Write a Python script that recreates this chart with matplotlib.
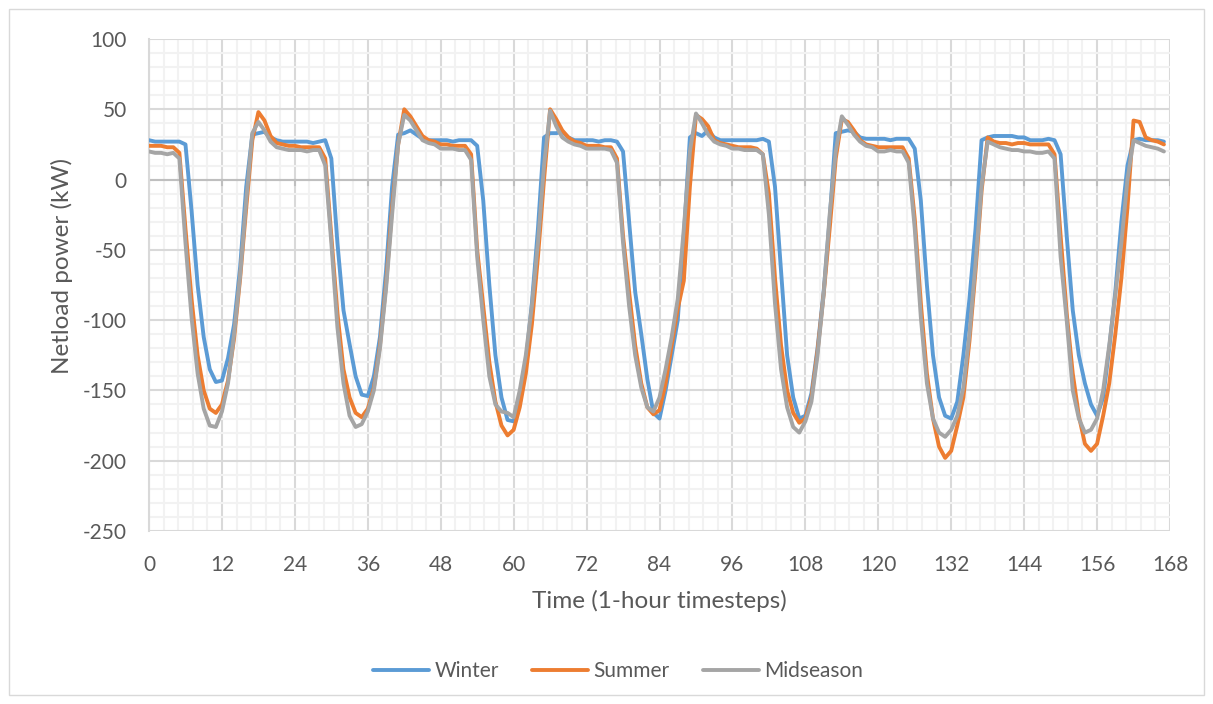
import matplotlib.pyplot as plt
from matplotlib.patches import Rectangle
from matplotlib.ticker import MultipleLocator
import numpy as np

plt.rcParams['font.family'] = ['Lato', 'DejaVu Sans']
plt.rcParams['axes.unicode_minus'] = False

# hourly net load over one week (kW), one row per day
winter = [
    28, 27, 27, 27, 27, 27, 25, -22, -75, -112, -135, -144, -143, -127, -103, -62, -5, 32, 33, 34, 30, 28, 27, 27,
    27, 27, 27, 26, 27, 28, 15, -45, -93, -117, -140, -153, -154, -140, -112, -65, -5, 32, 33, 35, 32, 29, 28, 28,
    28, 28, 27, 28, 28, 28, 24, -15, -75, -125, -155, -171, -172, -160, -130, -88, -35, 30, 33, 33, 34, 30, 28, 28,
    28, 28, 27, 28, 28, 27, 20, -30, -80, -110, -142, -166, -170, -150, -125, -100, -40, 30, 33, 31, 35, 30, 28, 28,
    28, 28, 28, 28, 28, 29, 27, -5, -65, -125, -155, -170, -168, -152, -120, -80, -28, 33, 34, 35, 34, 30, 29, 29,
    29, 29, 28, 29, 29, 29, 22, -15, -75, -125, -155, -168, -170, -158, -125, -85, -35, 28, 30, 31, 31, 31, 31, 30,
    30, 28, 28, 28, 29, 28, 18, -40, -93, -125, -145, -160, -168, -155, -120, -80, -30, 10, 28, 29, 28, 28, 28, 27,
]
summer = [
    24, 24, 24, 23, 23, 19, -35, -85, -125, -150, -163, -166, -160, -143, -113, -70, -20, 28, 48, 42, 31, 26, 25, 24,
    24, 23, 23, 23, 23, 15, -40, -95, -135, -155, -166, -169, -163, -148, -118, -75, -20, 25, 50, 45, 38, 31, 28, 27,
    25, 25, 24, 24, 24, 18, -50, -90, -130, -158, -175, -182, -178, -162, -138, -103, -55, 0, 50, 43, 35, 30, 27, 26,
    24, 24, 24, 23, 23, 15, -40, -80, -118, -145, -162, -167, -164, -145, -118, -92, -72, -5, 46, 43, 38, 28, 26, 25,
    24, 23, 23, 23, 22, 18, -10, -70, -118, -150, -166, -173, -170, -155, -122, -82, -35, 15, 43, 41, 35, 28, 25, 24,
    23, 23, 23, 23, 23, 15, -28, -88, -138, -170, -190, -198, -193, -175, -155, -115, -65, -8, 30, 27, 26, 26, 25, 26,
    26, 25, 25, 25, 25, 18, -40, -95, -138, -168, -188, -193, -188, -168, -145, -110, -70, -20, 42, 41, 30, 28, 27, 25,
]
midseason = [
    20, 19, 19, 18, 19, 15, -45, -98, -138, -163, -175, -176, -165, -145, -110, -68, -15, 33, 41, 35, 27, 23, 22, 21,
    21, 21, 20, 21, 21, 10, -45, -105, -145, -168, -176, -174, -165, -150, -120, -78, -25, 25, 46, 42, 35, 28, 26, 25,
    22, 22, 22, 21, 21, 14, -55, -100, -140, -160, -165, -166, -169, -150, -125, -90, -45, 10, 49, 38, 30, 27, 25, 24,
    22, 22, 22, 22, 21, 12, -45, -90, -125, -148, -162, -165, -155, -135, -112, -85, -35, 20, 47, 40, 32, 27, 25, 24,
    22, 22, 21, 21, 21, 18, -25, -88, -135, -162, -176, -180, -172, -158, -125, -82, -25, 20, 45, 39, 32, 27, 24, 23,
    20, 20, 21, 20, 20, 12, -35, -98, -145, -170, -180, -183, -178, -168, -148, -110, -60, -5, 27, 25, 23, 22, 21, 21,
    20, 20, 19, 19, 20, 15, -55, -100, -150, -170, -180, -178, -170, -150, -118, -82, -45, 0, 28, 26, 24, 23, 22, 20,
]
series_names = ["Winter", "Summer", "Midseason"]
series_colors = ["#5B9BD5", "#ED7D31", "#A5A5A5"]

hours = np.arange(len(winter))
text_color = "#595959"

fig = plt.figure(figsize=(12.13, 7.04), dpi=100)
fig.patches.append(Rectangle((9 / 1213, 9 / 704), 1195 / 1213, 686 / 704,
                             transform=fig.transFigure, fill=False,
                             edgecolor="#D9D9D9", linewidth=1))

ax = fig.add_axes([0.12284, 0.24574, 0.84171, 0.69886])

ax.set_xlim(0, 168)
ax.set_ylim(-250, 100)
ax.xaxis.set_major_locator(MultipleLocator(12))
ax.xaxis.set_minor_locator(MultipleLocator(2.4))
ax.yaxis.set_major_locator(MultipleLocator(50))
ax.yaxis.set_minor_locator(MultipleLocator(10))
ax.grid(which="major", color="#D9D9D9", linewidth=1.5)
ax.grid(which="minor", color="#F2F2F2", linewidth=1.5)
ax.set_axisbelow(True)

# horizontal axis line at zero with short ticks hanging below it
ax.axhline(0, color="#BFBFBF", linewidth=1.5, zorder=1.5)
for t in ax.get_xticks():
    ax.plot([t, t], [0, -3.6], color="#BFBFBF", linewidth=1.5, zorder=1.5)

for name, vals, col in zip(series_names, [winter, summer, midseason], series_colors):
    ax.plot(hours, vals, color=col, linewidth=2.8, label=name, zorder=3,
            solid_joinstyle="round", solid_capstyle="round")

ax.set_xlim(0, 168)
ax.set_ylim(-250, 100)

for side in ["top", "right", "bottom"]:
    ax.spines[side].set_visible(False)
ax.spines["left"].set_color("#D9D9D9")
ax.spines["left"].set_linewidth(1.5)

ax.tick_params(which="both", length=0)
ax.tick_params(axis="x", labelsize=15, labelcolor=text_color, pad=17)
ax.tick_params(axis="y", labelsize=15, labelcolor=text_color, pad=16)

fig.text(659.5 / 1213, 1 - 601 / 704, "Time (1-hour timesteps)", ha="center",
         va="center", fontsize=17.5, color=text_color)
fig.text(62 / 1213, 1 - 266 / 704, "Netload power (kW)", ha="center",
         va="center", rotation=90, fontsize=17.5, color=text_color)

fig.legend(loc="center", bbox_to_anchor=(618 / 1213, 1 - 671 / 704), ncol=3,
           frameon=False, fontsize=15, handlelength=2.7, columnspacing=1.6,
           handletextpad=0.25, labelcolor=text_color)

fig.savefig("out.png", dpi=100)
